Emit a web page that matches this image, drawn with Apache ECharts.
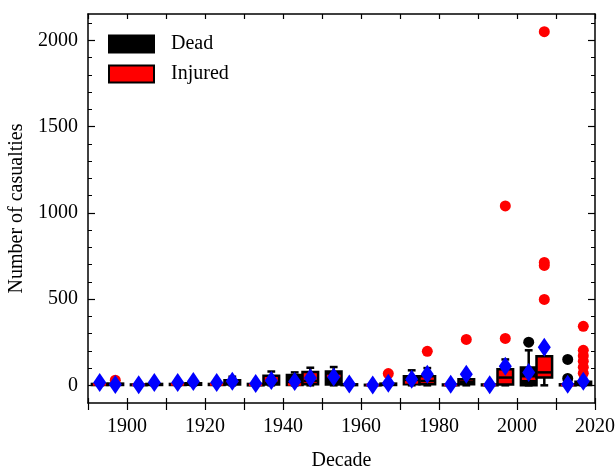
<!DOCTYPE html>
<html><head><meta charset="utf-8">
<script src="https://cdn.jsdelivr.net/npm/echarts@6/dist/echarts.min.js"></script>
<style>html,body{margin:0;padding:0;background:#fff}#c{width:616px;height:473px}</style>
</head><body><div id="c"></div>
<script>
// ---- data ----
const decades = [1890,1900,1910,1920,1930,1940,1950,1960,1970,1980,1990,2000,2010];
// [min, Q1, median, Q3, max]
const deadBox = [[0,2,5,8,12],[0,1,3,5,8],[0,2,5,8,12],[0,2,5,8,12],[0,0,3,8,15],[0,2,5,60,75],[0,5,54,80,106],[0,0,1,3,5],[0,6,17,52,87],[0,0,2,5,10],[0,0,2,5,8],[0,0,38,104,203],[0,0,2,6,12]];
const deadMean = [17,3,17,16,10,22,48,2,35,6,4,75,6];
const deadOutliers = [[],[],[],[],[],[],[],[],[],[],[],[250],[150,40]];
const injuredBox = [[0,2,6,10,15],[0,2,5,8,12],[0,3,8,12,20],[0,5,12,30,50],[0,5,15,55,80],[0,6,25,77,102],[0,1,3,6,10],[0,2,5,10,15],[0,6,25,52,100],[0,6,20,35,60],[0,5,45,93,150],[0,46,75,168,230],[0,2,8,20,40]];
const injuredMean = [5,17,22,24,28,42,8,12,64,64,110,220,23];
const injuredOutliers = [[30],[],[],[],[],[],[],[68],[197],[266],[1040,272],[2050,712,695,498],[342,203,172,140,105,70]];
const yMajor = [0,500,1000,1500,2000];
const yMinor = [100,200,300,400,600,700,800,900,1100,1200,1300,1400,1600,1700,1800,1900,2100];

// ---- layout ----
const DEAD_OFF = 3, INJ_OFF = 7, BOX_W = 4;
const FONT = '"Liberation Serif", "DejaVu Serif", serif';

function boxData(box, off){ return decades.map((d,i)=>[d+off].concat(box[i])); }
function meanData(m, off){ return decades.map((d,i)=>[d+off, m[i]]); }
function outData(o, off){ const r=[]; decades.forEach((d,i)=>o[i].forEach(v=>r.push([d+off,v]))); return r; }

function boxRender(fill, medColor){
  return function(params, api){
    const x=api.value(0), mn=api.value(1), q1=api.value(2), md=api.value(3), q3=api.value(4), mx=api.value(5);
    const hw = api.size([BOX_W,0])[0]/2, cw = hw/2;
    const pMin=api.coord([x,mn]), pQ1=api.coord([x,q1]), pMd=api.coord([x,md]), pQ3=api.coord([x,q3]), pMax=api.coord([x,mx]);
    const ls = {stroke:'#000', lineWidth:2.5};
    return {type:'group', children:[
      {type:'line', shape:{x1:pQ3[0],y1:pQ3[1],x2:pMax[0],y2:pMax[1]}, style:ls},
      {type:'line', shape:{x1:pQ1[0],y1:pQ1[1],x2:pMin[0],y2:pMin[1]}, style:ls},
      {type:'line', shape:{x1:pMax[0]-cw,y1:pMax[1],x2:pMax[0]+cw,y2:pMax[1]}, style:ls},
      {type:'line', shape:{x1:pMin[0]-cw,y1:pMin[1],x2:pMin[0]+cw,y2:pMin[1]}, style:ls},
      {type:'rect', shape:{x:pQ3[0]-hw, y:pQ3[1], width:hw*2, height:Math.max(pQ1[1]-pQ3[1],0.5)}, style:{fill:fill, stroke:'#000', lineWidth:2.5}},
      {type:'line', shape:{x1:pMd[0]-hw+1,y1:pMd[1],x2:pMd[0]+hw-1,y2:pMd[1]}, style:{stroke:medColor, lineWidth:2.5}}
    ]};
  };
}

const chart = echarts.init(document.getElementById('c'));
chart.setOption({
  animation:false,
  grid:{left:88, right:21, top:14, bottom:70, containLabel:false, outerBoundsMode:'none'},
  legend:{
    orient:'vertical', left:108, top:34, padding:0, itemWidth:45, itemHeight:17, itemGap:10,
    icon:'rect',
    textStyle:{fontFamily:FONT, fontSize:20, color:'#000', padding:[0,0,0,12]},
    data:[
      {name:'Dead', itemStyle:{color:'#000', borderColor:'#000', borderWidth:2}},
      {name:'Injured', itemStyle:{color:'#ff0000', borderColor:'#000', borderWidth:2}}
    ]
  },
  xAxis:[
    {type:'value', min:1890, max:2020, interval:10, position:'bottom',
     name:'Decade', nameLocation:'middle', nameGap:48,
     nameTextStyle:{fontFamily:FONT, fontSize:20, color:'#000'},
     axisLine:{show:true, onZero:false, lineStyle:{color:'#000', width:1.5}},
     axisTick:{show:true, inside:false, length:7, lineStyle:{color:'#000', width:1.2}},
     axisLabel:{fontFamily:FONT, fontSize:20, color:'#000', margin:14, showMaxLabel:true, showMinLabel:true,
       formatter:v=> (v%20===0 ? String(v) : '')},
     splitLine:{show:false}},
    {type:'value', min:1890, max:2020, interval:10, position:'bottom',
     axisLine:{show:false, onZero:false}, axisLabel:{show:false},
     axisTick:{show:true, inside:true, length:5, lineStyle:{color:'#000', width:1.2}}, splitLine:{show:false}},
    {type:'value', min:1890, max:2020, interval:10, position:'top',
     axisLine:{show:true, onZero:false, lineStyle:{color:'#000', width:1.5}}, axisLabel:{show:false},
     axisTick:{show:true, inside:true, length:5, lineStyle:{color:'#000', width:1.2}}, splitLine:{show:false}}
  ],
  yAxis:[
    {type:'value', min:-102.5, max:2152.5, position:'left',
     name:'Number of casualties', nameLocation:'middle', nameGap:56,
     nameTextStyle:{fontFamily:FONT, fontSize:20, color:'#000'},
     axisLine:{show:true, onZero:false, lineStyle:{color:'#000', width:1.5}},
     axisTick:{show:true, inside:true, length:7, customValues:yMajor, lineStyle:{color:'#000', width:1.2}},
     axisLabel:{fontFamily:FONT, fontSize:20, color:'#000', margin:10, customValues:yMajor, formatter:v=>String(v)},
     splitLine:{show:false}},
    {type:'value', min:-102.5, max:2152.5, position:'left',
     axisLine:{show:false, onZero:false}, axisLabel:{show:false},
     axisTick:{show:true, inside:true, length:4, customValues:yMinor, lineStyle:{color:'#000', width:1}}, splitLine:{show:false}},
    {type:'value', min:-102.5, max:2152.5, position:'right',
     axisLine:{show:true, onZero:false, lineStyle:{color:'#000', width:1.5}}, axisLabel:{show:false},
     axisTick:{show:true, inside:true, length:7, customValues:yMajor, lineStyle:{color:'#000', width:1.2}}, splitLine:{show:false}},
    {type:'value', min:-102.5, max:2152.5, position:'right',
     axisLine:{show:false, onZero:false}, axisLabel:{show:false},
     axisTick:{show:true, inside:true, length:4, customValues:yMinor, lineStyle:{color:'#000', width:1}}, splitLine:{show:false}}
  ],
  series:[
    {name:'Dead', type:'custom', xAxisIndex:0, yAxisIndex:0, itemStyle:{color:'#000'},
     renderItem:boxRender('#000','#ff0000'), data:boxData(deadBox, DEAD_OFF), z:2},
    {name:'Injured', type:'custom', xAxisIndex:0, yAxisIndex:0, itemStyle:{color:'#ff0000'},
     renderItem:boxRender('#ff0000','#000'), data:boxData(injuredBox, INJ_OFF), z:2},
    {name:'deadOut', type:'scatter', xAxisIndex:0, yAxisIndex:0, symbol:'circle', symbolSize:11,
     itemStyle:{color:'#000', opacity:1}, data:outData(deadOutliers, DEAD_OFF), z:3},
    {name:'injOut', type:'scatter', xAxisIndex:0, yAxisIndex:0, symbol:'circle', symbolSize:11,
     itemStyle:{color:'#ff0000', opacity:1}, data:outData(injuredOutliers, INJ_OFF), z:3},
    {name:'deadMean', type:'scatter', xAxisIndex:0, yAxisIndex:0, symbol:'diamond', symbolSize:[13,19],
     itemStyle:{color:'#0000ff', opacity:1}, data:meanData(deadMean, DEAD_OFF), z:4},
    {name:'injMean', type:'scatter', xAxisIndex:0, yAxisIndex:0, symbol:'diamond', symbolSize:[13,19],
     itemStyle:{color:'#0000ff', opacity:1}, data:meanData(injuredMean, INJ_OFF), z:4}
  ]
});
</script></body></html>
